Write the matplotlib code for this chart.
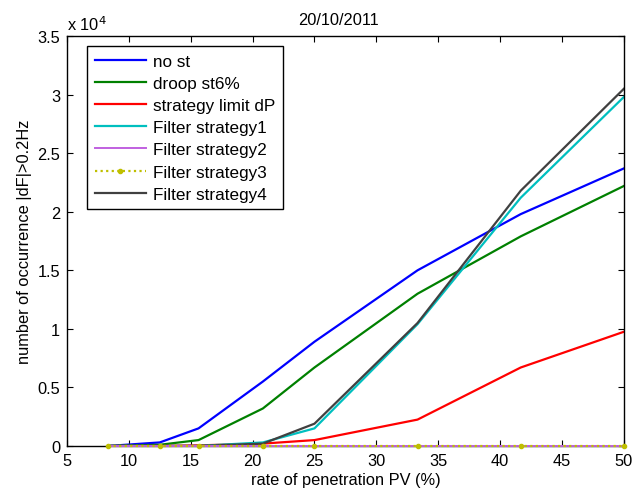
import matplotlib.pyplot as plt
from matplotlib.ticker import FuncFormatter

plt.rcParams['font.family'] = ['Liberation Sans', 'DejaVu Sans']

# penetration rate (%) and occurrences |dF|>0.2Hz
pv = [8.33, 12.5, 15.63, 20.83, 25.0, 33.33, 41.67, 50.0]
no_st = [0, 300, 1500, 5500, 8900, 15000, 19800, 23700]
droop = [0, 100, 500, 3200, 6700, 13000, 17900, 22200]
limit_dp = [0, 0, 50, 200, 500, 2250, 6700, 9750]
filter1 = [0, 0, 0, 300, 1500, 10400, 21200, 29800]
filter2 = [0, 0, 0, 0, 0, 0, 0, 0]
filter3 = [0, 0, 0, 0, 0, 0, 0, 0]
filter4 = [0, 0, 0, 200, 1900, 10500, 21800, 30500]

fs = 11.8

fig = plt.figure(figsize=(6.32, 4.89), dpi=100)
ax = fig.add_axes([0.106, 0.086, 0.881, 0.838])

ax.plot(pv, no_st, color='#0000ff', lw=1.6, label='no st')
ax.plot(pv, droop, color='#008000', lw=1.6, label='droop st6%')
ax.plot(pv, limit_dp, color='#ff0000', lw=1.6, label='strategy limit dP')
ax.plot(pv, filter1, color='#00bfbf', lw=1.6, label='Filter strategy1')
ax.plot(pv, filter2, color='#c060e0', lw=1.4, label='Filter strategy2',
        clip_on=False, zorder=3)
ax.plot(pv, filter3, color='#bfbf00', lw=1.6, ls=(0, (1, 1.5)), marker='.',
        ms=6, label='Filter strategy3', clip_on=False, zorder=4)
ax.plot(pv, filter4, color='#404040', lw=1.6, label='Filter strategy4')

ax.set_xlim(5, 50)
ax.set_ylim(0, 35000)
ax.set_xticks(range(5, 51, 5))
ax.set_yticks([i * 5000 for i in range(8)])
ax.yaxis.set_major_formatter(FuncFormatter(lambda v, p: '%g' % (v / 1e4)))
ax.tick_params(direction='in', top=True, right=True, labelsize=fs, length=4,
               pad=5)
for s in ax.spines.values():
    s.set_linewidth(1.0)

ax.text(0.0, 1.008, r'x 10$^{4}$', transform=ax.transAxes, fontsize=fs,
        ha='left', va='bottom')
ax.set_title('20/10/2011', fontsize=fs, pad=9, x=0.487)
ax.set_xlabel('rate of penetration PV (%)', fontsize=fs, labelpad=3)
ax.set_ylabel('number of occurrence |dF|>0.2Hz', fontsize=fs, labelpad=4)

leg = ax.legend(loc='upper left', bbox_to_anchor=(0.036, 0.976),
                borderaxespad=0, fontsize=12.3, fancybox=False, framealpha=1,
                edgecolor='black', handlelength=3.0, handletextpad=0.4,
                labelspacing=0.42, borderpad=0.45)
leg.get_frame().set_linewidth(1.0)

fig.savefig('out.png', dpi=100)
